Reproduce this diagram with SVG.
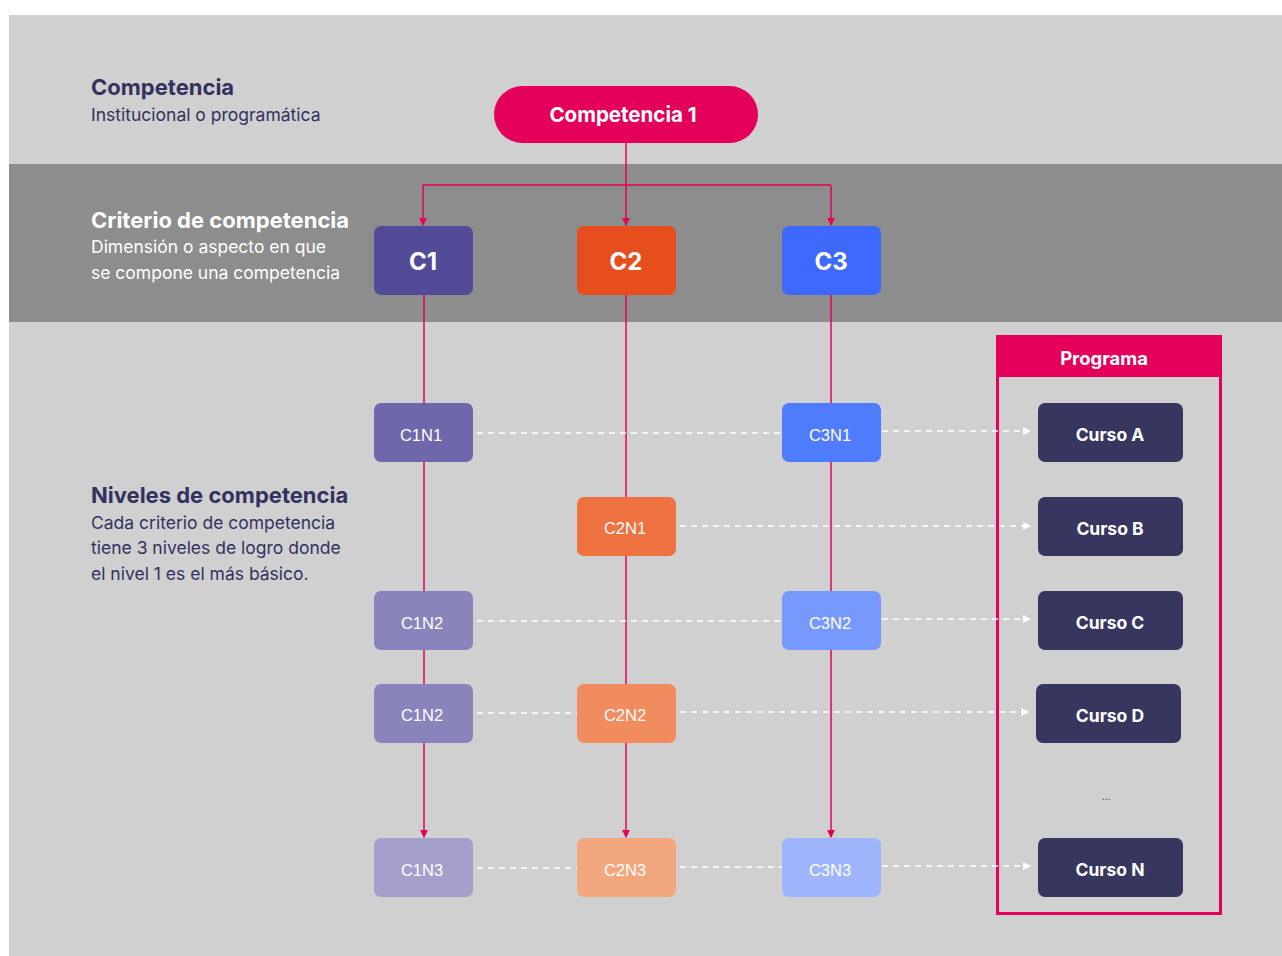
<svg xmlns="http://www.w3.org/2000/svg" width="1282" height="956" viewBox="0 0 1282 956">
<defs>
<style>
.lbl{font-family:Inter,"Liberation Sans",sans-serif}
.h{font-size:22px;font-weight:700}
.s{font-size:17.5px}
.dark{fill:#33325f}
.wt{fill:#ffffff}
.nt{font-family:"Liberation Sans",Arial,sans-serif;font-size:16.5px;fill:#ffffff;text-anchor:middle}
.ct{font-family:Inter,"Liberation Sans",sans-serif;font-size:17.5px;font-weight:700;fill:#ffffff;text-anchor:middle}
.bt{font-family:Inter,"Liberation Sans",sans-serif;font-size:24px;font-weight:700;fill:#ffffff;text-anchor:middle}
.solid{stroke:#e4005a;stroke-width:1.5;fill:none}
.dash{stroke:#ffffff;stroke-width:1.5;stroke-dasharray:6 5;fill:none}
.curso{fill:#37365f}
</style>
<marker id="ap" markerWidth="8" markerHeight="8" refX="7" refY="4" orient="auto" markerUnits="userSpaceOnUse">
<path d="M0,0 L8,4 L0,8 z" fill="#e4005a"/>
</marker>
<marker id="aw" markerWidth="8" markerHeight="8" refX="7" refY="4" orient="auto" markerUnits="userSpaceOnUse">
<path d="M0,0 L8,4 L0,8 z" fill="#ffffff"/>
</marker>
</defs>
<rect x="0" y="0" width="1282" height="956" fill="#ffffff"/>
<rect x="9" y="15" width="1273" height="941" fill="#d0d0d0"/>
<rect x="9" y="164" width="1273" height="158" fill="#8c8d8c"/>

<g id="legend">
<text class="lbl h dark" x="91" y="95">Competencia</text>
<text class="lbl s dark" x="91" y="121">Institucional o programática</text>
<text class="lbl h wt" x="91" y="228">Criterio de competencia</text>
<text class="lbl s wt" x="91" y="253">Dimensión o aspecto en que</text>
<text class="lbl s wt" x="91" y="279">se compone una competencia</text>
<text class="lbl h dark" x="91" y="503">Niveles de competencia</text>
<text class="lbl s dark" x="91" y="529">Cada criterio de competencia</text>
<text class="lbl s dark" x="91" y="554">tiene 3 niveles de logro donde</text>
<text class="lbl s dark" x="91" y="580">el nivel 1 es el más básico.</text>
</g>

<g id="programa">
<rect x="997.5" y="336.5" width="223" height="577" fill="none" stroke="#e4005a" stroke-width="3"/>
<rect x="997" y="335" width="224" height="42" fill="#e4005a"/>
<text class="ct" x="1104" y="365" style="font-size:18.5px">Programa</text>
<text x="1106" y="800" font-family="Inter,'Liberation Sans',sans-serif" font-size="10" fill="#33325f" text-anchor="middle">...</text>
</g>

<g id="connectors">
<path class="solid" d="M626,143 V185"/>
<path class="solid" d="M423,185 H831"/>
<path class="solid" d="M423,185 V225" marker-end="url(#ap)"/>
<path class="solid" d="M626,185 V225" marker-end="url(#ap)"/>
<path class="solid" d="M831,185 V225" marker-end="url(#ap)"/>
<path class="solid" d="M424,295 V837" marker-end="url(#ap)"/>
<path class="solid" d="M626,295 V837" marker-end="url(#ap)"/>
<path class="solid" d="M831,295 V837" marker-end="url(#ap)"/>
<path class="dash" d="M477,433 H782"/>
<path class="dash" d="M882,431 H1030" marker-end="url(#aw)"/>
<path class="dash" d="M680,526 H1030" marker-end="url(#aw)"/>
<path class="dash" d="M477,621 H782"/>
<path class="dash" d="M882,619 H1030" marker-end="url(#aw)"/>
<path class="dash" d="M477,713 H577"/>
<path class="dash" d="M680,712 H1028" marker-end="url(#aw)"/>
<path class="dash" d="M477,868 H577"/>
<path class="dash" d="M680,867 H782"/>
<path class="dash" d="M882,866 H1030" marker-end="url(#aw)"/>
</g>

<g id="competencia1">
<rect x="494" y="86" width="264" height="57" rx="28.5" fill="#e4005a"/>
<text class="ct" x="623" y="122" style="font-size:20.5px">Competencia 1</text>
</g>

<g id="C1"><rect x="374" y="226" width="99" height="69" rx="7" fill="#524c98"/><text class="bt" x="423" y="270">C1</text></g>
<g id="C2"><rect x="577" y="226" width="99" height="69" rx="7" fill="#e64e1e"/><text class="bt" x="626" y="270">C2</text></g>
<g id="C3"><rect x="782" y="226" width="99" height="69" rx="7" fill="#3d6afc"/><text class="bt" x="831" y="270">C3</text></g>

<g id="C1N1"><rect x="374" y="403" width="99" height="59" rx="7" fill="#6e67ab"/><text class="nt" x="421" y="441">C1N1</text></g>
<g id="C3N1"><rect x="782" y="403" width="99" height="59" rx="7" fill="#4f7bfd"/><text class="nt" x="830" y="441">C3N1</text></g>
<g id="C2N1"><rect x="577" y="497" width="99" height="59" rx="7" fill="#ed723f"/><text class="nt" x="625" y="534">C2N1</text></g>
<g id="C1N2a"><rect x="374" y="591" width="99" height="59" rx="7" fill="#8a84bd"/><text class="nt" x="422" y="629">C1N2</text></g>
<g id="C3N2"><rect x="782" y="591" width="99" height="59" rx="7" fill="#7799fd"/><text class="nt" x="830" y="629">C3N2</text></g>
<g id="C1N2b"><rect x="374" y="684" width="99" height="59" rx="7" fill="#8a84bd"/><text class="nt" x="422" y="721">C1N2</text></g>
<g id="C2N2"><rect x="577" y="684" width="99" height="59" rx="7" fill="#f08c5e"/><text class="nt" x="625" y="721">C2N2</text></g>
<g id="C1N3"><rect x="374" y="838" width="99" height="59" rx="7" fill="#a59fcc"/><text class="nt" x="422" y="876">C1N3</text></g>
<g id="C2N3"><rect x="577" y="838" width="99" height="59" rx="7" fill="#f3a77f"/><text class="nt" x="625" y="876">C2N3</text></g>
<g id="C3N3"><rect x="782" y="838" width="99" height="59" rx="7" fill="#9fb5fe"/><text class="nt" x="830" y="876">C3N3</text></g>

<g id="cursoA"><rect class="curso" x="1038" y="403" width="145" height="59" rx="7"/><text class="ct" x="1110" y="441">Curso A</text></g>
<g id="cursoB"><rect class="curso" x="1038" y="497" width="145" height="59" rx="7"/><text class="ct" x="1110" y="535">Curso B</text></g>
<g id="cursoC"><rect class="curso" x="1038" y="591" width="145" height="59" rx="7"/><text class="ct" x="1110" y="629">Curso C</text></g>
<g id="cursoD"><rect class="curso" x="1036" y="684" width="145" height="59" rx="7"/><text class="ct" x="1110" y="722">Curso D</text></g>
<g id="cursoN"><rect class="curso" x="1038" y="838" width="145" height="59" rx="7"/><text class="ct" x="1110" y="876">Curso N</text></g>
</svg>
